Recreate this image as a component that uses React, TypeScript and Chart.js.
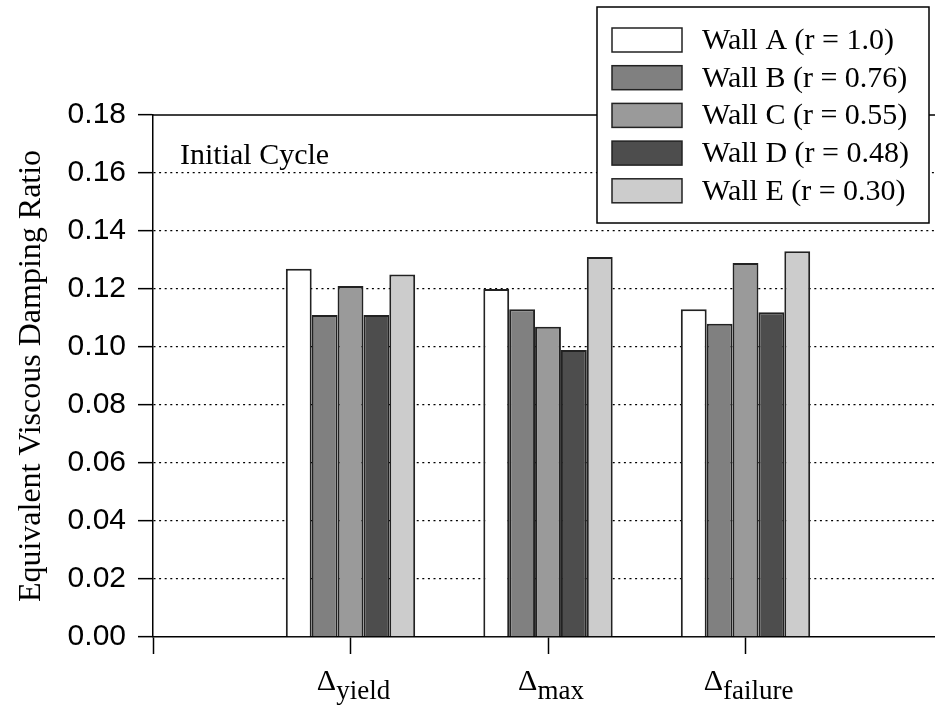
import React, { useEffect, useRef } from "react";
import { Chart, registerables } from "chart.js";

Chart.register(...registerables);

// Drift levels (blank slots at both ends keep the axis span)
const categories = ["", "yield", "max", "failure", ""];
const wallLabels = [
  "Wall A (r = 1.0)",
  "Wall B (r = 0.76)",
  "Wall C (r = 0.55)",
  "Wall D (r = 0.48)",
  "Wall E (r = 0.30)",
];
const wallA = [null, 0.127, 0.12, 0.113, null];
const wallB = [null, 0.111, 0.113, 0.108, null];
const wallC = [null, 0.121, 0.107, 0.129, null];
const wallD = [null, 0.111, 0.099, 0.112, null];
const wallE = [null, 0.125, 0.131, 0.133, null];
const wallColors = ["#ffffff", "#808080", "#9a9a9a", "#4d4d4d", "#cccccc"];
const yTicks = [0, 0.02, 0.04, 0.06, 0.08, 0.1, 0.12, 0.14, 0.16, 0.18];
const yTitle = "Equivalent Viscous Damping Ratio";
const panelNote = "Initial Cycle";

const SERIF = "'Liberation Serif', 'Times New Roman', serif";
const SANS = "'Liberation Sans', Arial, sans-serif";

const decorPlugin = {
  id: "decor",
  afterDatasetsDraw(chart: any) {
    const { ctx, chartArea, scales } = chart;
    ctx.save();
    // top frame line
    ctx.strokeStyle = "#000";
    ctx.lineWidth = 1.5;
    ctx.beginPath();
    ctx.moveTo(chartArea.left, chartArea.top);
    ctx.lineTo(chartArea.right, chartArea.top);
    ctx.stroke();

    // panel note
    ctx.fillStyle = "#000";
    ctx.font = `30px ${SERIF}`;
    ctx.textAlign = "left";
    ctx.textBaseline = "alphabetic";
    ctx.fillText(panelNote, 180, 164);

    // category labels: Δ with subscript
    const x = scales.x;
    for (let i = 0; i < categories.length; i++) {
      const name = categories[i];
      if (!name) continue;
      const px = x.getPixelForValue(i);
      ctx.font = `30px ${SERIF}`;
      const wD = ctx.measureText("Δ").width;
      ctx.font = `27px ${SERIF}`;
      const wS = ctx.measureText(name).width;
      const start = px - (wD + wS) / 2 + 3;
      ctx.font = `30px ${SERIF}`;
      ctx.fillText("Δ", start, 690);
      ctx.font = `27px ${SERIF}`;
      ctx.fillText(name, start + wD, 699);
    }

    // legend box
    const bx = 597, by = 7, bw = 332, bh = 216;
    ctx.fillStyle = "#fff";
    ctx.fillRect(bx, by, bw, bh);
    ctx.strokeStyle = "#000";
    ctx.lineWidth = 1.5;
    ctx.strokeRect(bx, by, bw, bh);
    chart.data.datasets.forEach((ds: any, i: number) => {
      const sy = 28 + i * 37.7;
      ctx.fillStyle = ds.backgroundColor;
      ctx.fillRect(612, sy, 70, 24);
      ctx.strokeStyle = "#222";
      ctx.lineWidth = 1.5;
      ctx.strokeRect(612, sy, 70, 24);
      ctx.fillStyle = "#000";
      ctx.font = `30px ${SERIF}`;
      ctx.textBaseline = "middle";
      ctx.fillText(ds.label, 702, sy + 13);
    });
    ctx.restore();
  },
};

export default function App() {
  const ref = useRef<HTMLCanvasElement>(null);

  useEffect(() => {
    const series = [wallA, wallB, wallC, wallD, wallE];
    const chart = new Chart(ref.current as HTMLCanvasElement, {
      type: "bar",
      data: {
        labels: categories,
        datasets: series.map((d, i) => ({
          label: wallLabels[i],
          data: d as any,
          backgroundColor: wallColors[i],
          borderColor: "#222",
          borderWidth: 2,
          categoryPercentage: 0.655,
          barPercentage: 1.0,
        })),
      },
      options: {
        animation: false,
        responsive: false,
        maintainAspectRatio: false,
        layout: { padding: { top: 115, right: 17, left: 0, bottom: 0 } },
        plugins: {
          legend: { display: false },
          tooltip: { enabled: false },
        },
        scales: {
          x: {
            type: "category",
            offset: false,
            grid: {
              offset: false,
              drawOnChartArea: false,
              drawTicks: true,
              tickLength: 17,
              tickColor: "#000",
              tickWidth: 1.5,
            },
            border: { display: true, color: "#000", width: 1.5 },
            ticks: { display: false },
            afterFit: (s: any) => {
              s.height = 71;
            },
          },
          y: {
            min: 0,
            max: 0.18,
            afterBuildTicks: (s: any) => {
              s.ticks = yTicks.map((v) => ({ value: v }));
            },
            ticks: {
              color: "#000",
              padding: 12,
              font: { family: SANS, size: 30 },
              callback: (v: any) => Number(v).toFixed(2),
            },
            grid: {
              color: (c: any) =>
                c.tick && (c.tick.value === 0 || c.tick.value === 0.18)
                  ? "rgba(0,0,0,0)"
                  : "#000",
              lineWidth: 1.3,
              tickLength: 15,
              tickColor: "#000",
              tickWidth: 1.5,
              tickBorderDash: [],
            },
            border: { display: true, color: "#000", width: 1.5, dash: [2, 3.6] },
            title: {
              display: true,
              text: yTitle,
              color: "#000",
              font: { family: SERIF, size: 32 },
              padding: { top: 12, bottom: 0 },
            },
            afterFit: (s: any) => {
              s.width = 153;
            },
          },
        },
      },
      plugins: [decorPlugin],
    });
    return () => chart.destroy();
  }, []);

  return (
    <div
      style={{
        position: "absolute",
        left: 0,
        top: 0,
        width: 935,
        height: 708,
        overflow: "hidden",
        background: "#fff",
      }}
    >
      <canvas ref={ref} width={960} height={708} style={{ width: 960, height: 708, display: "block" }} />
    </div>
  );
}
